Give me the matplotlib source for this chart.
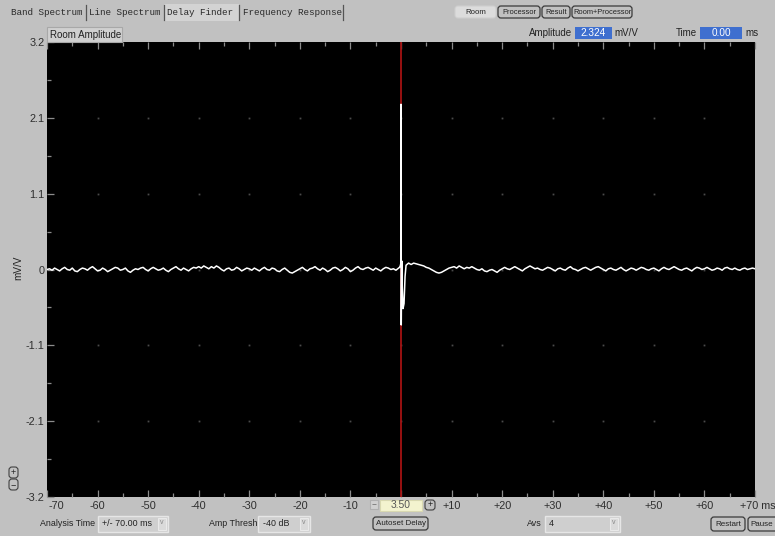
import matplotlib
matplotlib.use('Agg')
import matplotlib.pyplot as plt
import numpy as np
from matplotlib.patches import Rectangle, FancyBboxPatch
import matplotlib.transforms as mtransforms

# ---------------- data ----------------
# baseline noise before the impulse (t = -70 ... -0.5 ms, 0.5 ms step)
pre_noise = [
    0.00, 0.01, -0.01, 0.02, 0.00, -0.02, 0.01, 0.03, 0.00, -0.01, 0.02, -0.02, -0.03, 0.00, 0.02, 0.01, -0.01, 0.02, 0.04, 0.01,
    -0.02, -0.01, 0.02, 0.00, -0.03, -0.01, 0.01, 0.03, 0.02, -0.01, 0.00, 0.02, -0.02, -0.04, -0.01, 0.01, 0.00, 0.02, 0.03, 0.00,
    -0.02, 0.01, 0.03, 0.01, -0.01, 0.00, 0.02, -0.01, -0.03, 0.00, 0.02, 0.04, 0.01, -0.01, 0.02, 0.00, -0.02, 0.01, 0.03, 0.02,
    0.04, 0.02, 0.05, 0.03, 0.01, 0.04, 0.02, 0.05, 0.03, 0.00, -0.02, 0.01, 0.02, -0.01, 0.00, 0.03, 0.01, -0.02, 0.00, 0.02,
    0.01, -0.01, 0.02, 0.00, -0.02, 0.01, 0.03, 0.00, -0.01, 0.02, 0.01, -0.02, -0.03, 0.00, 0.02, -0.01, -0.04, -0.05, -0.03, -0.01,
    0.01, 0.03, 0.00, -0.02, 0.01, 0.02, 0.04, 0.01, -0.01, 0.02, 0.00, -0.03, -0.01, 0.02, 0.03, 0.01, -0.02, 0.00, 0.03, 0.01,
    -0.03, -0.01, 0.02, 0.04, 0.01, 0.00, 0.02, 0.03, 0.01, -0.01, 0.02, 0.00, -0.02, 0.01, 0.03, 0.02, 0.00, 0.01, -0.01, 0.02,
]
# impulse detail
imp_t = [-0.3, -0.15, -0.05, 0.0, 0.05, 0.15, 0.25, 0.4, 0.6, 0.8, 1.0, 1.5, 2.0, 2.5, 3.0]
imp_v = [0.03, 0.05, 0.08, 2.324, -0.78, 0.12, -0.25, -0.55, -0.48, -0.10, 0.06, 0.09, 0.07, 0.09, 0.08]
# baseline after the impulse (t = 3.5 ... 70 ms, 0.5 ms step)
post_noise = [
    0.07, 0.06, 0.05, 0.03, 0.02, 0.00, -0.02, -0.04, -0.05, -0.04, -0.02, 0.00, 0.02,
    0.03, 0.04, 0.02, 0.05, 0.03, 0.01, 0.03, 0.02, 0.04, 0.02, 0.00, -0.01, 0.01, -0.02, -0.03, -0.01, 0.00, -0.02, -0.04, -0.01,
    0.01, 0.03, 0.01, 0.00, 0.02, 0.04, 0.02, 0.00, -0.02, 0.01, 0.03, 0.05, 0.03, 0.01, 0.02, 0.00, -0.01, 0.01, 0.03, 0.02,
    0.00, -0.02, 0.01, 0.02, 0.00, -0.01, 0.02, 0.04, 0.01, 0.00, -0.02, 0.00, 0.02, 0.03, 0.01, -0.01, 0.01, 0.03, 0.04, 0.02,
    0.00, -0.02, 0.01, 0.02, 0.00, -0.01, 0.01, 0.03, 0.00, -0.02, 0.00, 0.02, 0.01, -0.01, 0.01, 0.03, 0.02, 0.00, -0.01, 0.01,
    0.02, 0.00, -0.02, 0.01, 0.03, 0.01, 0.00, 0.02, 0.04, 0.02, 0.00, -0.01, 0.01, 0.02, 0.00, -0.02, 0.01, 0.03, 0.02, 0.00,
    0.01, 0.03, 0.01, -0.01, 0.00, 0.02, 0.01, -0.01, 0.02, 0.03, 0.01, 0.00, 0.02, 0.00, -0.01, 0.01, 0.02, 0.00, 0.01, 0.02, 0.01,
]
cursor_time = 0.0
x_ticks = [-70, -60, -50, -40, -30, -20, -10, 0, 10, 20, 30, 40, 50, 60, 70]
x_labels = ['-70', '-60', '-50', '-40', '-30', '-20', '-10', '', '+10', '+20', '+30', '+40', '+50', '+60', '+70 ms']
y_ticks = [-3.2, -2.1333, -1.0667, 0.0, 1.0667, 2.1333, 3.2]
y_labels = ['-3.2', '-2.1', '-1.1', '0', '1.1', '2.1', '3.2']
tabs = ['Band Spectrum', 'Line Spectrum', 'Delay Finder', 'Frequency Response']

t_pre = np.arange(-70, -0.49, 0.5)
t_post = np.arange(3.5, 70.01, 0.5)
t_all = np.concatenate([t_pre, imp_t, t_post])
v_all = np.concatenate([pre_noise, imp_v, post_noise])

# ---------------- figure ----------------
W, H = 775, 536
BG = '#c1c1c1'
UIF = ['Liberation Sans', 'DejaVu Sans']
fig = plt.figure(figsize=(W / 100, H / 100), dpi=100)
fig.patch.set_facecolor(BG)

L, R, T, B = 47, 755, 42, 497
ax = fig.add_axes([L / W, (H - B) / H, (R - L) / W, (B - T) / H])
ax.set_facecolor('black')
for s in ax.spines.values():
    s.set_visible(False)
ax.set_xlim(-70, 70)
ax.set_ylim(-3.2, 3.2)

# grid dots
gx = [v for v in x_ticks if -70 < v < 70]
gy = [v for v in y_ticks if -3.2 < v < 3.2]
GX, GY = np.meshgrid(gx, gy)
ax.plot(GX.ravel(), GY.ravel(), ls='none', marker='s', ms=1.3, mew=0, color='#4a4a4a', zorder=1)

ax.axvline(cursor_time, color='#a51212', lw=1.3, zorder=2)
ax.plot(t_all, v_all, color='white', lw=1.1, zorder=3)

ax.set_xticks(x_ticks, x_labels)
ax.set_xticks(np.arange(-65, 70, 10), minor=True)
ax.set_yticks(y_ticks, y_labels)
ax.set_yticks([-2.6667, -1.6, -0.5333, 0.5333, 1.6, 2.6667], minor=True)
ax.tick_params(which='both', direction='in', color='#8c8c8c', width=0.9,
               top=True, bottom=True, left=True, right=False,
               labelcolor='#2e2e2e', labelsize=7.8)
ax.tick_params(which='major', length=5)
ax.tick_params(which='minor', length=3)
ax.tick_params(axis='x', pad=3)
ax.tick_params(axis='y', pad=2)
for lab in ax.get_xticklabels() + ax.get_yticklabels():
    lab.set_family(UIF)
xl = ax.get_xticklabels()
xl[0].set_horizontalalignment('left')
xl[0].set_transform(xl[0].get_transform() + mtransforms.ScaledTranslation(2 / 100, 0, fig.dpi_scale_trans))
xl[-1].set_horizontalalignment('left')
xl[-1].set_transform(xl[-1].get_transform() + mtransforms.ScaledTranslation(-15 / 100, 0, fig.dpi_scale_trans))

# ---------------- UI overlay (pixel coordinates) ----------------
ui = fig.add_axes([0, 0, 1, 1])
ui.set_xlim(0, W)
ui.set_ylim(H, 0)
ui.axis('off')
ui.patch.set_alpha(0)
ui.set_zorder(5)


def box(x0, x1, y0, y1, fc='none', ec='none', lw=0.8, rounded=False, z=1):
    if rounded:
        p = FancyBboxPatch((x0, y0), x1 - x0, y1 - y0,
                           boxstyle='round,pad=0,rounding_size=3', fc=fc, ec=ec, lw=lw, zorder=z)
    else:
        p = Rectangle((x0, y0), x1 - x0, y1 - y0, fc=fc, ec=ec, lw=lw, zorder=z)
    ui.add_patch(p)


def txt(x, y, s, size=6.8, ha='left', color='#222222', family=None, **kw):
    ui.text(x, y, s, fontsize=size, ha=ha, va='center', color=color,
            family=family or UIF, zorder=5, **kw)


# tabs
box(164, 239, 4, 21, fc='#d3d3d3')
seps = [86, 164, 239, 343]
for sx in seps:
    ui.plot([sx, sx], [5, 20], color='#555555', lw=0.9)
tab_x = [11, 89, 167, 243]
for tx, name in zip(tab_x, tabs):
    txt(tx, 12.5, name, size=6.7, family=['Liberation Mono', 'DejaVu Sans Mono'], color='#2a2a2a')

# top buttons
box(455, 496, 6, 18, fc='#dcdcdc', ec='#cfcfcf', rounded=True)
txt(475.5, 12, 'Room', size=5.6, ha='center')
for (bx0, bx1, name) in [(498, 540, 'Processor'), (542, 570, 'Result'), (572, 632, 'Room+Processor')]:
    box(bx0, bx1, 6, 18, fc=BG, ec='#3a3a3a', lw=0.9, rounded=True)
    txt((bx0 + bx1) / 2, 12, name, size=5.4, ha='center')

# Room Amplitude tab
box(47, 122, 27, 42, fc='#d0d0d0', ec='#a8a8a8')
txt(50, 34.5, 'Room Amplitude', size=7.0)

# Amplitude / Time readouts
txt(572, 33, 'Amplitude', size=7.0, ha='right')
box(575, 612, 27, 39, fc='#3f6fcf')
txt(593.5, 33, '2.324', size=7.2, ha='center', color='white')
txt(614, 33, 'mV/V', size=7.0)
txt(697, 33, 'Time', size=7.0, ha='right')
box(700, 742, 27, 39, fc='#3f6fcf')
txt(721, 33, '0.00', size=7.2, ha='center', color='white')
txt(745, 33, 'ms', size=7.0)

# y axis label
txt(18, 268, 'mV/V', size=7.2, ha='center', rotation=90)

# zoom +/- buttons
box(9, 18, 467, 478, fc=BG, ec='#404040', lw=0.8, rounded=True)
txt(13.5, 472.5, '+', size=6.5, ha='center')
box(9, 18, 479, 490, fc=BG, ec='#404040', lw=0.8, rounded=True)
txt(13.5, 484.5, '\u2212', size=6.5, ha='center')

# cursor readout
box(370, 378, 500, 509, fc='#d0d0d0', ec='#b0b0b0', lw=0.8)
txt(374, 504.5, '\u2212', size=6, ha='center', color='#666666')
box(380, 422, 500, 511, fc='#f3f3cf', ec='#d8d8b0', lw=0.8)
txt(401, 505.5, '3.50', size=7.4, ha='center', color='#555555')
box(425, 435, 500, 510, fc=BG, ec='#404040', lw=0.8, rounded=True)
txt(430, 505, '+', size=6.5, ha='center')

# bottom controls
txt(40, 524, 'Analysis Time', size=6.4)
box(98, 168, 516, 532, fc='#cfcfcf', ec='#e6e6e6', lw=1.0)
box(158, 166, 518, 530, fc='#dadada', ec='#eeeeee', lw=0.6)
txt(102, 524, '+/- 70.00 ms', size=6.4)
txt(162, 522, 'v', size=5, ha='center', color='#888888')

txt(209, 524, 'Amp Thresh', size=6.4)
box(258, 310, 516, 532, fc='#cfcfcf', ec='#e6e6e6', lw=1.0)
box(300, 308, 518, 530, fc='#dadada', ec='#eeeeee', lw=0.6)
txt(263, 524, '-40 dB', size=6.4)
txt(304, 522, 'v', size=5, ha='center', color='#888888')

box(373, 428, 517, 530, fc=BG, ec='#3a3a3a', lw=0.9, rounded=True)
txt(400.5, 523.5, 'Autoset Delay', size=5.8, ha='center')

txt(527, 524, 'Avs', size=6.4)
box(545, 620, 516, 532, fc='#cfcfcf', ec='#e6e6e6', lw=1.0)
box(610, 618, 518, 530, fc='#dadada', ec='#eeeeee', lw=0.6)
txt(549, 524, '4', size=6.4)
txt(614, 522, 'v', size=5, ha='center', color='#888888')

box(711, 745, 517, 531, fc=BG, ec='#3a3a3a', lw=0.9, rounded=True)
txt(728, 524, 'Restart', size=5.8, ha='center')
box(748, 782, 517, 531, fc=BG, ec='#3a3a3a', lw=0.9, rounded=True)
txt(750, 524, 'Pause', size=5.8)

fig.savefig('out.png', dpi=100, facecolor=fig.get_facecolor())
